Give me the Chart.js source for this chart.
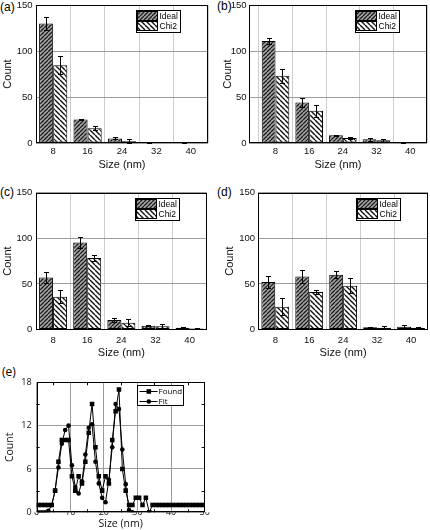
<!DOCTYPE html>
<html>
<head>
<meta charset="utf-8">
<script src="https://cdn.jsdelivr.net/npm/chart.js@4/dist/chart.umd.min.js"></script>
<style>
html,body{margin:0;padding:0;background:#fff;}
body{width:430px;height:530px;position:relative;overflow:hidden;}
canvas{position:absolute;}
.lbl{position:absolute;font:12px "Liberation Sans",Arial,sans-serif;line-height:12px;color:#000;}
.lbl.e{font-family:"Open Sans",sans-serif;}
</style>
</head>
<body>
<div class="lbl" style="left:0px;top:1px">(a)</div>
<div class="lbl" style="left:217px;top:0px">(b)</div>
<div class="lbl" style="left:0px;top:186px">(c)</div>
<div class="lbl" style="left:217px;top:186px">(d)</div>
<div class="lbl e" style="left:2px;top:366px">(e)</div>
<canvas id="ca"></canvas>
<canvas id="cb"></canvas>
<canvas id="cc"></canvas>
<canvas id="cd"></canvas>
<canvas id="ce"></canvas>
<script>
// ---------------- data ----------------
const sizes = [8, 16, 24, 32, 40];

const aIdeal    = [130, 25.5, 5, 0.5, 0.5];
const aIdealErr = [7, 1, 1, 0.5, 0.5];
const aChi2     = [84.5, 16, 2, 0, 0];
const aChi2Err  = [10, 2, 2, 0, 0];

const bIdeal    = [111, 44, 8.5, 4, 1];
const bIdealErr = [3.5, 4.5, 0.5, 1.5, 0.5];
const bChi2     = [73, 35, 5.5, 3, 0];
const bChi2Err  = [7.5, 6.5, 1.5, 1.5, 0];

const cIdeal    = [57, 95.5, 10.5, 4, 2];
const cIdealErr = [6, 6, 2.5, 0.5, 1];
const cChi2     = [36, 78.5, 7.5, 3.5, 1];
const cChi2Err  = [7, 3.5, 3.5, 2, 0.5];

const dIdeal    = [52, 58, 60, 2.5, 3];
const dIdealErr = [7, 7, 4, 0.5, 1.5];
const dChi2     = [25, 41, 48, 2, 2];
const dChi2Err  = [9.5, 2.5, 8.5, 1.5, 0.5];

const eSize = [0.5,1.5,2.5,3.5,4.5,5.5,6.5,7.5,8.5,9.5,10.5,11.5,12.5,13.5,14.5,15.5,16.5,17.5,18.5,19.5,
               20.5,21.5,22.5,23.5,24.5,25.5,26.5,27.5,28.5,29.5,30.5,31.5,32.5,33.5,34.5,35.5,36.5,37.5,38.5,39.5,
               40.5,41.5,42.5,43.5,44.5,45.5,46.5,47.5,48.5,49.5];
const eFound = [1,1,1,1,1,3,7,10,10,10,5,3,5,4,7,11,15,9,5,3,
                5,4,10,14,17,6,3,1,1,2,2,1,2,0,1,1,1,1,1,1,
                1,1,1,1,1,1,1,1,1,1];
const eFitSize = [0.5,1.5,2.5,3.5,4.5,5.5,6.5,7.5,8.5,9.5,10.5,11.5,12.5,13.5,14.5,15.5,16.5,17.5,18.5,19.5,
                  20.5,21.5,22.5,23.5,24.5,25.5,26.5,27.5,28.5];
const eFit = [0,0,0,0.2,1,3,6.2,9.5,11.4,12,6.5,3.5,2.6,4.3,8,11.7,12.2,7,4,2,
              1.4,4.5,9,15,14.3,8.7,3.9,0.3,0];
const eMinorX = [5, 15, 25, 35, 45];
const eMinorY = [3, 9, 15];

// ---------------- styling helpers ----------------
Chart.defaults.font.family = '"Liberation Sans", Arial, sans-serif';
Chart.defaults.color = '#111';

function hatch(dir, size, bg, fg, lw) {
  const c = document.createElement('canvas');
  c.width = size; c.height = size;
  const g = c.getContext('2d');
  g.fillStyle = bg; g.fillRect(0, 0, size, size);
  g.strokeStyle = fg; g.lineWidth = lw;
  g.beginPath();
  for (let k = -size; k <= size; k += size) {
    if (dir > 0) { g.moveTo(k, size); g.lineTo(k + size, 0); }
    else { g.moveTo(k, 0); g.lineTo(k + size, size); }
  }
  g.stroke();
  return g.createPattern(c, 'repeat');
}
const IDEAL_FILL = hatch(1, 4, '#a6a6a6', '#1c1c1c', 1.3);
const CHI2_FILL = hatch(-1, 5, '#ffffff', '#111111', 1.4);

const framePlugin = {
  id: 'frame',
  afterDraw(chart) {
    const {ctx, chartArea: a} = chart;
    ctx.save();
    ctx.strokeStyle = '#000'; ctx.lineWidth = 1;
    const l = Math.round(a.left) + 0.5, t = Math.round(a.top) + 0.5;
    const r = Math.round(a.right) - 0.5, b = Math.round(a.bottom) - 0.5;
    ctx.strokeRect(l, t, r - l, b - t);
    ctx.restore();
  }
};

const errPlugin = {
  id: 'errbars',
  afterDatasetsDraw(chart) {
    const ctx = chart.ctx, ys = chart.scales.y;
    ctx.save();
    ctx.strokeStyle = '#000'; ctx.lineWidth = 1;
    chart.data.datasets.forEach((ds, di) => {
      const meta = chart.getDatasetMeta(di);
      meta.data.forEach((bar, j) => {
        const e = ds.err[j];
        if (!e) return;
        const v = ds.data[j].y;
        const x = Math.round(bar.x) + 0.5;
        const y1 = Math.round(ys.getPixelForValue(v + e)) + 0.5;
        const y2 = Math.round(ys.getPixelForValue(Math.max(0, v - e))) + 0.5;
        ctx.beginPath();
        ctx.moveTo(x, y1); ctx.lineTo(x, y2);
        ctx.moveTo(x - 2.5, y1); ctx.lineTo(x + 2.5, y1);
        ctx.moveTo(x - 2.5, y2); ctx.lineTo(x + 2.5, y2);
        ctx.stroke();
      });
    });
    ctx.restore();
  }
};

const barLegend = {
  id: 'barLegend',
  afterDraw(chart) {
    const {ctx, chartArea: a} = chart;
    const w = 44, h = 22;
    const bx = Math.round(a.right - 28 - w) + 0.5, by = Math.round(a.top + 5) + 0.5;
    ctx.save();
    ctx.fillStyle = '#fff'; ctx.fillRect(bx, by, w, h);
    ctx.strokeStyle = '#000'; ctx.lineWidth = 1; ctx.strokeRect(bx, by, w, h);
    chart.data.datasets.forEach((ds, i) => {
      const sy = by + 1 + i * 10;
      ctx.fillStyle = ds.backgroundColor; ctx.fillRect(bx + 1, sy, 20, 9);
      ctx.strokeRect(bx + 1, sy, 20, 9);
      ctx.fillStyle = '#000'; ctx.font = '8.5px "Liberation Sans", Arial, sans-serif';
      ctx.textBaseline = 'middle'; ctx.textAlign = 'left';
      ctx.fillText(ds.label, bx + 23, sy + 5);
    });
    ctx.restore();
  }
};

function place(id, box) {
  const cv = document.getElementById(id);
  cv.width = box.w; cv.height = box.h;
  cv.style.left = box.x + 'px'; cv.style.top = box.y + 'px';
  return cv;
}

function barChart(id, c) {
  const cv = place(id, c.box);
  const mk = (vals) => sizes.map((s, i) => ({x: s, y: vals[i]}));
  return new Chart(cv, {
    type: 'bar',
    data: {
      datasets: [
        {label: 'Ideal', data: mk(c.ideal), err: c.idealErr, backgroundColor: IDEAL_FILL,
         borderColor: '#000', borderWidth: 1, borderSkipped: false, categoryPercentage: 0.82, barPercentage: 1},
        {label: 'Chi2', data: mk(c.chi), err: c.chiErr, backgroundColor: CHI2_FILL,
         borderColor: '#000', borderWidth: 1, borderSkipped: false, categoryPercentage: 0.82, barPercentage: 1}
      ]
    },
    options: {
      responsive: false, animation: false, events: [],
      layout: {padding: {left: 0, top: c.area.t, right: c.box.w - c.area.r, bottom: 0}},
      plugins: {legend: {display: false}, tooltip: {enabled: false}},
      scales: {
        x: {
          type: 'linear', min: c.xMin, max: 44, offset: false,
          afterBuildTicks: s => { s.ticks = sizes.map(v => ({value: v})); },
          grid: {offset: true, color: '#cdcdcd', lineWidth: 1, drawTicks: false},
          border: {display: false},
          ticks: {padding: c.xTickPad, color: '#111', font: {size: 9.5}, autoSkip: false, maxRotation: 0},
          title: {display: true, text: 'Size (nm)', color: '#111', font: {size: 11}, padding: {top: 0, bottom: c.xTitlePB}},
          afterFit: s => { s.height = c.box.h - c.area.b; s.paddingLeft = 0; s.paddingRight = 0; }
        },
        y: {
          min: 0, max: 150,
          ticks: {stepSize: 50, padding: c.yTickPad, color: '#111', font: {size: 9.5}},
          grid: {color: '#9c9c9c', lineWidth: 1, drawTicks: false},
          border: {display: false},
          title: {display: true, text: 'Count', color: '#111', font: {size: 11}, padding: {top: c.yTitlePT, bottom: 0}},
          afterFit: s => { s.width = c.area.l; s.paddingTop = 0; s.paddingBottom = 0; }
        }
      }
    },
    plugins: [errPlugin, framePlugin, barLegend]
  });
}

barChart('ca', {box: {x: 0, y: 0, w: 215, h: 172}, area: {l: 36, t: 5, r: 208, b: 143}, xMin: 4,
  ideal: aIdeal, idealErr: aIdealErr, chi: aChi2, chiErr: aChi2Err,
  xTickPad: 3, xTitlePB: 0.4, yTickPad: 3.5, yTitlePT: 1.4});
barChart('cb', {box: {x: 215, y: 0, w: 215, h: 172}, area: {l: 34, t: 5, r: 212, b: 143}, xMin: 1.7,
  ideal: bIdeal, idealErr: bIdealErr, chi: bChi2, chiErr: bChi2Err,
  xTickPad: 3, xTitlePB: 0.4, yTickPad: 2.5, yTitlePT: 6.4});
barChart('cc', {box: {x: 0, y: 170, w: 215, h: 190}, area: {l: 36, t: 22.7, r: 206.7, b: 159.5}, xMin: 4,
  ideal: cIdeal, idealErr: cIdealErr, chi: cChi2, chiErr: cChi2Err,
  xTickPad: 5, xTitlePB: 0.2, yTickPad: 3.7, yTitlePT: 1.7});
barChart('cd', {box: {x: 215, y: 170, w: 215, h: 190}, area: {l: 43.3, t: 22.7, r: 213, b: 159.5}, xMin: 4,
  ideal: dIdeal, idealErr: dIdealErr, chi: dChi2, chiErr: dChi2Err,
  xTickPad: 5, xTitlePB: 0.2, yTickPad: 3.3, yTitlePT: 8.4});

// ---------------- panel (e) ----------------
const eFont = '"Open Sans", "Noto Sans", sans-serif';
const minorTicks = {
  id: 'minorTicks',
  afterDraw(chart) {
    const {ctx, chartArea: a, scales: {x, y}} = chart;
    ctx.save();
    ctx.strokeStyle = '#000'; ctx.lineWidth = 1;
    ctx.beginPath();
    eMinorX.forEach(v => {
      const px = Math.round(x.getPixelForValue(v)) + 0.5;
      ctx.moveTo(px, a.top); ctx.lineTo(px, a.top + 3);
      ctx.moveTo(px, a.bottom); ctx.lineTo(px, a.bottom - 3);
    });
    eMinorY.forEach(v => {
      const py = Math.round(y.getPixelForValue(v)) + 0.5;
      ctx.moveTo(a.left, py); ctx.lineTo(a.left + 3, py);
      ctx.moveTo(a.right, py); ctx.lineTo(a.right - 3, py);
    });
    ctx.stroke();
    ctx.restore();
  }
};
const lineLegend = {
  id: 'lineLegend',
  afterDraw(chart) {
    const {ctx, chartArea: a} = chart;
    const w = 46, h = 20;
    const bx = Math.round(a.right - 68) + 0.5, by = Math.round(a.top + 2.4) + 0.5;
    ctx.save();
    ctx.fillStyle = '#fff'; ctx.fillRect(bx, by, w, h);
    ctx.strokeStyle = '#000'; ctx.lineWidth = 1; ctx.strokeRect(bx, by, w, h);
    chart.data.datasets.forEach((ds, i) => {
      const cy = Math.round(by + 5 + i * 10) + 0.5;
      ctx.strokeStyle = '#000'; ctx.lineWidth = 1;
      ctx.beginPath(); ctx.moveTo(bx + 2, cy); ctx.lineTo(bx + 20, cy); ctx.stroke();
      ctx.fillStyle = '#000';
      if (ds.pointStyle === 'rect') { ctx.fillRect(bx + 9, cy - 2.3, 4.6, 4.6); }
      else { ctx.beginPath(); ctx.arc(bx + 11.3, cy, 2.3, 0, Math.PI * 2); ctx.fill(); }
      ctx.font = '8px ' + eFont; ctx.textBaseline = 'middle'; ctx.textAlign = 'left';
      ctx.fillText(ds.label, bx + 21, cy);
    });
    ctx.restore();
  }
};

(function () {
  const box = {x: 0, y: 360, w: 215, h: 170};
  const area = {l: 36.6, t: 22.3, r: 204.7, b: 152.3};
  const cv = place('ce', box);
  new Chart(cv, {
    type: 'line',
    data: {
      datasets: [
        {label: 'Found', data: eSize.map((x, i) => ({x, y: eFound[i]})), borderColor: '#000', backgroundColor: '#000',
         borderWidth: 1, pointStyle: 'rect', pointRadius: 3.2, pointBorderWidth: 0, tension: 0},
        {label: 'Fit', data: eFitSize.map((x, i) => ({x, y: eFit[i]})), borderColor: '#000', backgroundColor: '#000',
         borderWidth: 1, pointStyle: 'circle', pointRadius: 2.3, pointBorderWidth: 0, tension: 0}
      ]
    },
    options: {
      responsive: false, animation: false, events: [],
      layout: {padding: {left: 0, top: area.t, right: box.w - area.r, bottom: 0}},
      plugins: {legend: {display: false}, tooltip: {enabled: false}},
      scales: {
        x: {
          type: 'linear', min: 0, max: 50,
          ticks: {stepSize: 10, padding: -5.5, color: '#111', font: {family: eFont, size: 9}, maxRotation: 0},
          grid: {color: '#9c9c9c', drawTicks: false}, border: {display: false},
          title: {display: true, text: 'Size (nm)', color: '#111', font: {family: eFont, size: 10.5}, padding: {top: 0, bottom: 0}},
          afterFit: s => { s.height = box.h - area.b; s.paddingLeft = 0; s.paddingRight = 0; }
        },
        y: {
          min: 0, max: 18,
          ticks: {stepSize: 6, padding: 5, color: '#111', font: {family: eFont, size: 9}},
          grid: {color: '#9c9c9c', drawTicks: false}, border: {display: false},
          title: {display: true, text: 'Count', color: '#111', font: {family: eFont, size: 10.5}, padding: {top: 3.7, bottom: 0}},
          afterFit: s => { s.width = area.l; s.paddingTop = 0; s.paddingBottom = 0; }
        }
      }
    },
    plugins: [framePlugin, minorTicks, lineLegend]
  });
})();
</script>
</body>
</html>
